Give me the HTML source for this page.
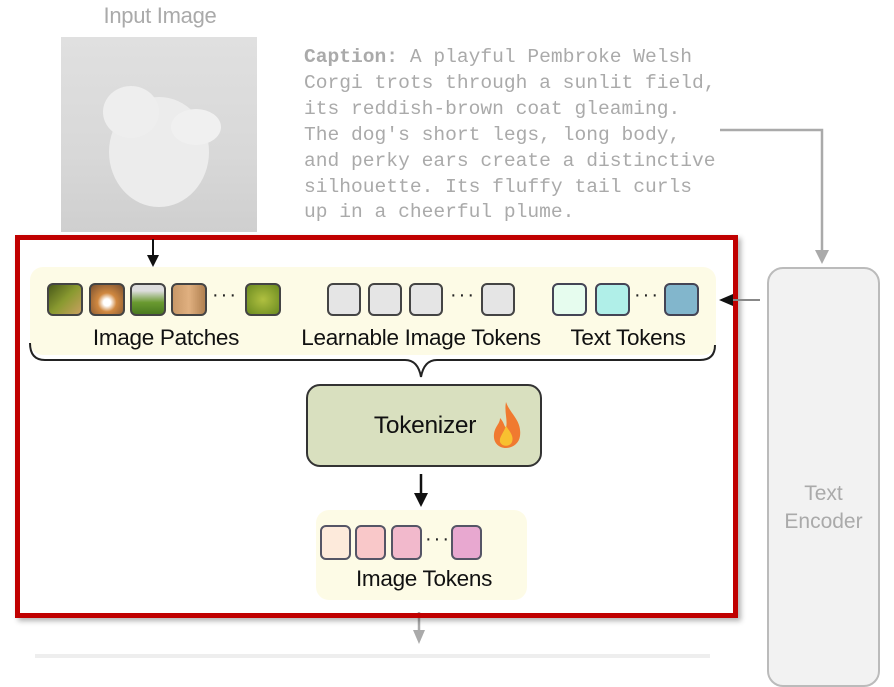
<!DOCTYPE html>
<html><head><style>
body{margin:0;width:894px;height:659px;background:#fff;position:relative;overflow:hidden;font-family:"Liberation Sans",sans-serif}
.a{position:absolute}
.tk{position:absolute;width:34px;height:33px;border:2px solid #444;border-radius:6px;box-sizing:border-box;top:283px}
.lbl{position:absolute;font-size:22.5px;color:#111;white-space:nowrap;transform:translateX(-50%);letter-spacing:-0.3px}
.dots{position:absolute;font-size:20px;color:#222;top:284px;letter-spacing:2px}
</style></head><body>
<div class="lbl" style="left:160px;top:3px;color:#aaa;font-size:22px">Input Image</div>
<div class="a" style="left:61px;top:37px;width:196px;height:195px;background:linear-gradient(#e0e0e0,#d8d8d8 60%,#cfcfcf)"></div>
<svg class="a" style="left:61px;top:37px" width="196" height="195"><ellipse cx="98" cy="115" rx="50" ry="55" fill="#ececec"/><ellipse cx="70" cy="75" rx="28" ry="26" fill="#eee"/><ellipse cx="135" cy="90" rx="25" ry="18" fill="#f0f0f0"/></svg>
<div class="a" style="left:304px;top:45px;font-family:'Liberation Mono',monospace;font-size:19.6px;line-height:25.9px;color:#aaa;white-space:pre"><b>Caption:</b> A playful Pembroke Welsh
Corgi trots through a sunlit field,
its reddish-brown coat gleaming.
The dog's short legs, long body,
and perky ears create a distinctive
silhouette. Its fluffy tail curls
up in a cheerful plume.</div>
<div class="a" style="left:767px;top:267px;width:113px;height:420px;background:#f2f2f2;border:2px solid #bbb;border-radius:16px;box-sizing:border-box"></div>
<div class="a" style="left:767px;top:480px;width:113px;text-align:center;color:#aaa;font-size:21px;line-height:28px">Text<br>Encoder</div>
<svg class="a" style="left:0;top:0" width="894" height="659">
<polyline points="720,130 822,130 822,252" fill="none" stroke="#aaa" stroke-width="2.5"/>
<polygon points="815,250 829,250 822,264" fill="#aaa"/>
<line x1="419" y1="612" x2="419" y2="632" stroke="#aaa" stroke-width="2.5"/>
<polygon points="413,630 425,630 419,644" fill="#aaa"/>
<line x1="35" y1="656" x2="710" y2="656" stroke="#eee" stroke-width="4"/>
</svg>
<div class="a" style="left:15px;top:235px;width:723px;height:383px;border:5px solid #c00000;box-sizing:border-box;box-shadow:3px 3px 5px rgba(0,0,0,.3)"></div>
<div class="a" style="left:30px;top:267px;width:686px;height:88px;background:#fdfbe6;border-radius:13px"></div>
<div class="a" style="left:316px;top:510px;width:211px;height:90px;background:#fdfbe6;border-radius:13px"></div>
<svg class="a" style="left:0;top:0" width="894" height="659">
<line x1="153" y1="239" x2="153" y2="256" stroke="#111" stroke-width="2"/>
<polygon points="147,255 159,255 153,267" fill="#111"/>
<line x1="733" y1="300" x2="760" y2="300" stroke="#888" stroke-width="2"/>
<polygon points="733,294 733,306 719,300" fill="#111"/>
<path d="M30,343 Q30,360 45,360 L405,360 Q418,360 421,377 Q424,360 437,360 L700,360 Q715,360 715,345" fill="none" stroke="#222" stroke-width="2"/>
<line x1="421" y1="474" x2="421" y2="494" stroke="#111" stroke-width="2.5"/>
<polygon points="414,493 428,493 421,507" fill="#111"/>
</svg>
<div class="tk" style="left:47px;width:36px;background:linear-gradient(135deg,#4a5a1a,#8a9a30,#c9a060)"></div>
<div class="tk" style="left:89px;width:36px;background:radial-gradient(circle at 50% 60%,#fff 15%,#d08840 40%,#7a5030)"></div>
<div class="tk" style="left:130px;width:36px;background:linear-gradient(#ddd 20%,#6a9a30 60%,#4a7a20)"></div>
<div class="tk" style="left:171px;width:36px;background:linear-gradient(90deg,#c89868,#e0b080,#b08050)"></div>
<div class="dots" style="left:212px">···</div>
<div class="tk" style="left:245px;width:36px;background:radial-gradient(#b0c040,#6a8a20)"></div>
<div class="tk" style="left:327px;background:#e5e5e5"></div>
<div class="tk" style="left:368px;background:#e5e5e5"></div>
<div class="tk" style="left:409px;background:#e5e5e5"></div>
<div class="dots" style="left:450px">···</div>
<div class="tk" style="left:481px;background:#e5e5e5"></div>
<div class="tk" style="left:552px;width:35px;background:#e6fcee;border-color:#445"></div>
<div class="tk" style="left:595px;width:35px;background:#b0efe8;border-color:#445"></div>
<div class="dots" style="left:634px">···</div>
<div class="tk" style="left:664px;width:35px;background:#82b6cc;border-color:#445"></div>
<div class="lbl" style="left:166px;top:325px">Image Patches</div>
<div class="lbl" style="left:421px;top:325px">Learnable Image Tokens</div>
<div class="lbl" style="left:628px;top:325px">Text Tokens</div>
<div class="a" style="left:306px;top:384px;width:236px;height:83px;background:#d9e0bf;border:2px solid #333;border-radius:14px;box-sizing:border-box"></div>
<div class="lbl" style="left:425px;top:412px;font-size:24.5px">Tokenizer</div>
<svg class="a" style="left:490px;top:400px" width="36" height="50"><path d="M16,2 C20,14 32,20 30,36 C29,44 22,48 16,48 C8,48 3,42 4,34 C5,26 10,24 10,18 C14,22 14,26 16,28 C18,20 14,12 16,2Z" fill="#f07a30"/><path d="M16,26 C20,32 24,36 22,42 C20,47 12,47 10,42 C9,37 13,34 16,26Z" fill="#f8c030"/></svg>
<div class="tk" style="left:320px;top:525px;width:31px;height:35px;background:#fdeadb;border-color:#556"></div>
<div class="tk" style="left:355px;top:525px;width:31px;height:35px;background:#f9c8c9;border-color:#556"></div>
<div class="tk" style="left:391px;top:525px;width:31px;height:35px;background:#f2b9cc;border-color:#556"></div>
<div class="dots" style="left:425px;top:528px">···</div>
<div class="tk" style="left:451px;top:525px;width:31px;height:35px;background:#e8a8d0;border-color:#556"></div>
<div class="lbl" style="left:424px;top:566px">Image Tokens</div>
</body></html>
